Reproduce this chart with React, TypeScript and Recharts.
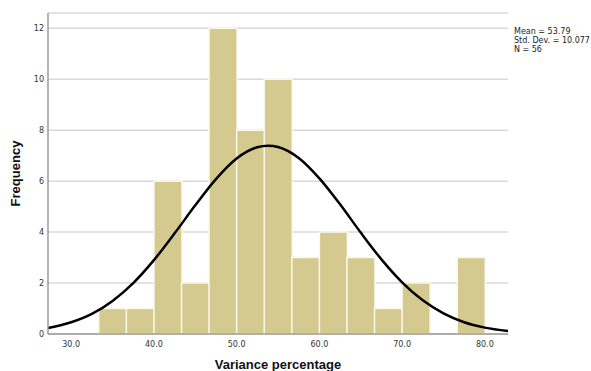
import { ComposedChart, Bar, Line, XAxis, YAxis, CartesianGrid } from 'recharts'

// histogram bins (mid points, width 3.33) and counts
const binMid = [35, 38.33, 41.67, 45, 48.33, 51.67, 55, 58.33, 61.67, 65, 68.33, 71.67, 75, 78.33]
const freq = [1, 1, 6, 2, 12, 8, 10, 3, 4, 3, 1, 2, 0, 3]

// fitted normal curve
const curveX = [27.2, 30, 32.5, 35, 37.5, 40, 42.5, 45, 47.5, 50, 52.5, 53.8, 55, 57.5, 60, 62.5, 65, 67.5, 70, 72.5, 75, 77.5, 80, 82.8]
const curveY = [0.23, 0.46, 0.79, 1.3, 2.0, 2.9, 3.95, 5.05, 6.08, 6.89, 7.33, 7.39, 7.34, 6.91, 6.11, 5.09, 3.98, 2.93, 2.03, 1.32, 0.81, 0.46, 0.25, 0.12]

const xTicks = [30, 40, 50, 60, 70, 80]
const yTicks = [0, 2, 4, 6, 8, 10, 12]
const stats = ['Mean = 53.79', 'Std. Dev. = 10.077', 'N = 56']

const bars = binMid.map((m, i) => ({ mid: m, count: freq[i] }))
const curve = curveX.map((x, i) => ({ x, f: curveY[i] }))

const tickStyle = { fontSize: 8, fill: '#333', fontFamily: 'DejaVu Sans' }
const titleStyle = { fontSize: 13, fontWeight: 700, fill: '#111', fontFamily: 'Liberation Sans' }

export default function App() {
  return (
    <div style={{ position: 'absolute', left: 0, top: 0, width: 591, height: 371, background: '#fff', overflow: 'hidden' }}>
      <ComposedChart
        width={591}
        height={371}
        data={bars}
        margin={{ top: 13, right: 83, left: 0, bottom: 0 }}
        barCategoryGap={0}
      >
        <CartesianGrid horizontal vertical={false} stroke="#d9d9d9" strokeWidth={1.5} />
        <XAxis
          xAxisId="bins"
          dataKey="mid"
          type="number"
          domain={[27.2, 82.8]}
          ticks={xTicks}
          tickFormatter={(v) => Number(v).toFixed(1)}
          allowDataOverflow
          height={37}
          tick={tickStyle}
          tickLine={false}
          tickSize={5}
          axisLine={{ stroke: '#9a9a9a', strokeWidth: 1.5 }}
          label={{ value: 'Variance percentage', position: 'insideBottom', offset: 2, style: titleStyle }}
        />
        {/* hidden twin axis so the curve's points don't change the bar width */}
        <XAxis xAxisId="curve" dataKey="x" type="number" domain={[27.2, 82.8]} allowDataOverflow hide />
        <YAxis
          type="number"
          domain={[0, 12.6]}
          ticks={yTicks}
          width={48}
          tick={tickStyle}
          tickLine={false}
          tickSize={4}
          tickMargin={0}
          axisLine={{ stroke: '#9a9a9a', strokeWidth: 1.5 }}
          label={{ value: 'Frequency', angle: -90, position: 'insideLeft', offset: 15, style: { ...titleStyle, textAnchor: 'middle' } }}
        />
        <Bar
          xAxisId="bins"
          dataKey="count"
          fill="#d4c98f"
          stroke="#fbf8ec"
          strokeWidth={1.5}
          isAnimationActive={false}
        />
        <Line
          xAxisId="curve"
          data={curve}
          dataKey="f"
          type="monotone"
          stroke="#000"
          strokeWidth={2.5}
          dot={false}
          activeDot={false}
          isAnimationActive={false}
        />
      </ComposedChart>

      {/* stats box on the right */}
      <div style={{
        position: 'absolute',
        left: 514,
        top: 27,
        fontFamily: 'DejaVu Sans',
        fontSize: 8,
        lineHeight: '9px',
        color: '#222',
        whiteSpace: 'nowrap',
      }}>
        {stats.map(s => <div key={s}>{s}</div>)}
      </div>
    </div>
  )
}
